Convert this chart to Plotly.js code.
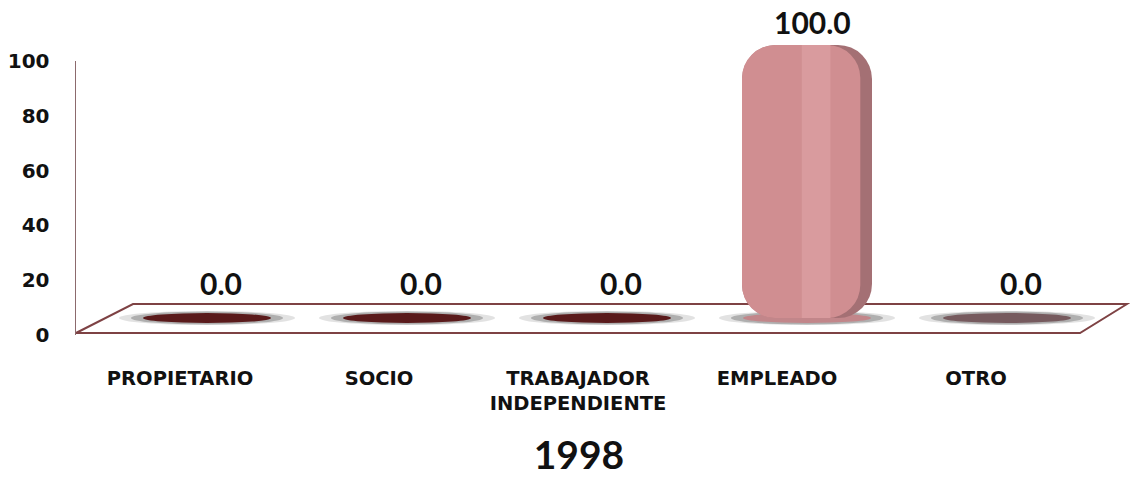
<!DOCTYPE html>
<html>
<head>
<meta charset="utf-8">
<script src="https://cdn.plot.ly/plotly-3.0.1.min.js"></script>
<style>
  html, body { margin: 0; padding: 0; background: #ffffff; }
  #chart { width: 1130px; height: 478px; }
</style>
</head>
<body>
<div id="chart"></div>
<script>
// ---- data ----
const categories = ['PROPIETARIO', 'SOCIO', 'TRABAJADOR<br>INDEPENDIENTE', 'EMPLEADO', 'OTRO'];
const values = [0.0, 0.0, 0.0, 100.0, 0.0];
const yTickValues = [0, 20, 40, 60, 80, 100];
const chartTitle = '1998';

// ---- style ----
const shadeColors = ['#5E1C1D', '#5E1C1D', '#5E1C1D', '#A47074', '#7B5E62'];
const faceColors = ['#5E1C1D', '#5E1C1D', '#5E1C1D', '#D08E91', '#7B5E62'];
const glossColors = ['#5E1C1D', '#5E1C1D', '#5E1C1D', '#D99B9E', '#7B5E62'];
const baseColors = ['#5A1A1B', '#5A1A1B', '#5A1A1B', '#C2868A', '#765A5E'];
const idx = categories.map((_, i) => i);
const W = 1130, H = 478;
const M = { l: 76, r: 3, t: 20, b: 143 };
const plotW = W - M.l - M.r, plotH = H - M.t - M.b;
const PX = px => (px - M.l) / plotW;
const PY = py => (H - M.b - py) / plotH;
// bar subplot: value 0 sits at pixel row 318, value 100 at row 45
const barPxPerUnit = (318 - 45) / 100;
const barRangeMin = -(H - M.b - 318) / barPxPerUnit;

const tickFontX = { family: 'DejaVu Sans, Verdana, sans-serif', size: 19.5, color: '#111111', weight: 'bold' };
const tickFontY = { family: 'DejaVu Sans, Verdana, sans-serif', size: 20, color: '#111111', weight: 'bold' };
const labelFont = { family: 'Lato, Calibri, sans-serif', size: 30, color: '#111111', weight: 'bold' };

const BW = 0.65;
const barCommon = { type: 'bar', x: idx, y: values, base: 0, xaxis: 'x2', yaxis: 'y2', hoverinfo: 'skip', showlegend: false };

const traces = [
  { // anchor trace for the front axes
    type: 'scatter', x: idx, y: values, mode: 'none', xaxis: 'x', yaxis: 'y',
    hoverinfo: 'skip', showlegend: false
  },
  Object.assign({}, barCommon, {
    width: BW,
    marker: { color: shadeColors, cornerradius: 34, line: { width: 0 } }
  }),
  Object.assign({}, barCommon, {
    width: BW * 0.91, offset: -BW / 2,
    marker: { color: faceColors, cornerradius: 33, line: { width: 0 } }
  }),
  Object.assign({}, barCommon, {
    width: BW * 0.22, offset: -BW * 0.04,
    marker: { color: glossColors, cornerradius: 0, line: { width: 0 } }
  })
];

const shapes = [];
// floor plane
shapes.push({
  type: 'path', xref: 'paper', yref: 'paper', layer: 'below',
  path: `M ${PX(76)},${PY(333)} L ${PX(1080)},${PY(333)} L ${PX(1127)},${PY(304)} L ${PX(133)},${PY(304)} Z`,
  line: { color: '#7E4244', width: 2 }, fillcolor: 'rgba(0,0,0,0)'
});
// soft shadows and base ellipses under each bar
idx.forEach(i => {
  shapes.push({ type: 'circle', xref: 'x2', yref: 'y2', layer: 'below',
    x0: i - 0.44, x1: i + 0.44, ysizemode: 'pixel', yanchor: 0, y0: -7, y1: 7,
    fillcolor: 'rgba(160,160,160,0.3)', line: { width: 0 } });
  shapes.push({ type: 'circle', xref: 'x2', yref: 'y2', layer: 'below',
    x0: i - 0.38, x1: i + 0.38, ysizemode: 'pixel', yanchor: 0, y0: -6.5, y1: 6.5,
    fillcolor: 'rgba(100,100,100,0.4)', line: { width: 0 } });
  shapes.push({ type: 'circle', xref: 'x2', yref: 'y2', layer: 'below',
    x0: i - 0.32, x1: i + 0.32, ysizemode: 'pixel', yanchor: 0, y0: -5, y1: 5,
    fillcolor: baseColors[i], line: { width: 0 } });
});

const annotations = idx.map(i => ({
  xref: 'x2', yref: 'y2', x: i, y: values[i],
  text: values[i].toFixed(1), showarrow: false,
  xanchor: 'center', yanchor: 'middle',
  xshift: values[i] > 0 ? 5 : 14,
  yshift: values[i] > 0 ? 23 : 35,
  font: labelFont
}));

const layout = {
  width: W, height: H,
  margin: M,
  paper_bgcolor: '#ffffff',
  plot_bgcolor: 'rgba(0,0,0,0)',
  showlegend: false,
  barmode: 'overlay',
  title: {
    text: chartTitle,
    font: { family: 'Lato, Calibri, sans-serif', size: 39, color: '#111111', weight: 'bold' },
    xref: 'paper', x: PX(579), xanchor: 'center',
    yref: 'container', y: 1 - 455 / H, yanchor: 'middle'
  },
  xaxis: {
    domain: [0, 1], anchor: 'y',
    range: [-(180 - M.l) / 199, -(180 - M.l) / 199 + plotW / 199],
    tickvals: idx, ticktext: categories,
    showgrid: false, zeroline: false, showline: false, ticks: '',
    ticklabelstandoff: 29, tickfont: tickFontX, fixedrange: true
  },
  yaxis: {
    domain: [0, PY(61)], anchor: 'x',
    range: [0, 100], tickvals: yTickValues,
    showgrid: false, zeroline: false, showline: true,
    linecolor: '#8C6A6D', linewidth: 1.5, ticks: '',
    ticklabelstandoff: 21, tickfont: tickFontY, fixedrange: true
  },
  xaxis2: {
    domain: [0, 1], anchor: 'y2',
    range: [-(207 - M.l) / 200, -(207 - M.l) / 200 + plotW / 200],
    visible: false, fixedrange: true
  },
  yaxis2: {
    domain: [0, PY(45)], anchor: 'x2',
    range: [barRangeMin, 100], visible: false, fixedrange: true
  },
  shapes: shapes,
  annotations: annotations
};

Plotly.newPlot('chart', traces, layout, { displayModeBar: false, staticPlot: true });
</script>
</body>
</html>
